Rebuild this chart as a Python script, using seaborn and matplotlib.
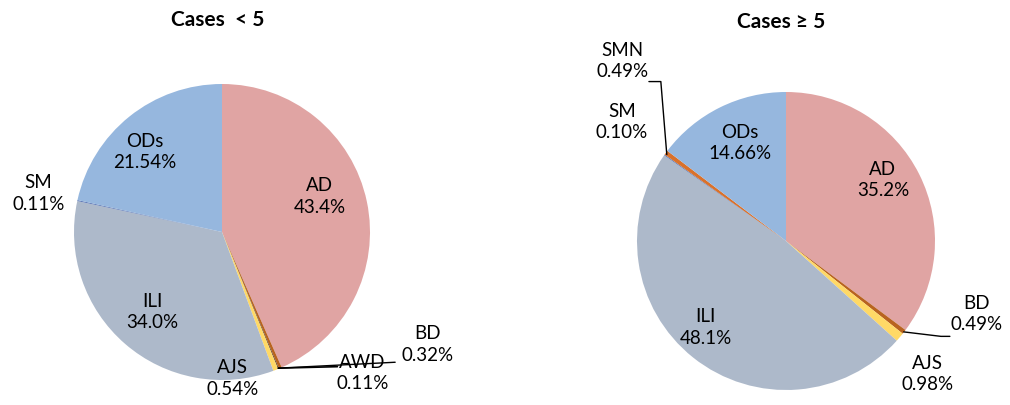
import matplotlib
matplotlib.use("Agg")
import matplotlib.pyplot as plt
import seaborn as sns

sns.set_theme(style="white")
plt.rcParams['font.family'] = ['Lato', 'DejaVu Sans']

# ---- data ----
left_labels = ["AD", "BD", "AWD", "AJS", "ILI", "SM", "ODs"]
left_values = [43.4, 0.32, 0.11, 0.54, 34.0, 0.11, 21.54]
left_text = ["43.4%", "0.32%", "0.11%", "0.54%", "34.0%", "0.11%", "21.54%"]

right_labels = ["AD", "BD", "AJS", "ILI", "SM", "SMN", "ODs"]
right_values = [35.2, 0.49, 0.98, 48.1, 0.10, 0.49, 14.66]
right_text = ["35.2%", "0.49%", "0.98%", "48.1%", "0.10%", "0.49%", "14.66%"]

titles = ["Cases  < 5", "Cases \u2265 5"]

colors = {
    "AD": "#E0A4A3", "BD": "#B8631F", "AWD": "#6B4A2A", "AJS": "#FFD966",
    "ILI": "#ADB9CA", "SM": "#5A76B5", "SMN": "#D9712B", "ODs": "#96B7DE",
}

W, H = 1010, 405
fig = plt.figure(figsize=(W / 100, H / 100), dpi=100)


def make_ax(cx, cy, r):
    return fig.add_axes([(cx - r) / W, (H - cy - r) / H, 2 * r / W, 2 * r / H])


# label positions relative to pie (unit radius)
left_pos = {
    "AD": (0.66, 0.24), "BD": (1.39, -0.76), "AWD": (0.95, -0.95),
    "AJS": (0.07, -0.99), "ILI": (-0.47, -0.54), "SM": (-1.24, 0.26),
    "ODs": (-0.52, 0.54),
}
right_pos = {
    "AD": (0.65, 0.41), "BD": (1.28, -0.49), "AJS": (0.95, -0.89),
    "ILI": (-0.54, -0.58), "SM": (-1.10, 0.80), "SMN": (-1.10, 1.21),
    "ODs": (-0.31, 0.66),
}


def draw(ax, labels, values, texts, pos, title, tpos):
    ax.pie(values, colors=[colors[l] for l in labels], startangle=90,
           counterclock=False, radius=1.0, wedgeprops=dict(linewidth=0))
    ax.set_xlim(-1, 1)
    ax.set_ylim(-1, 1)
    ax.set_aspect('auto')
    ax.axis('off')
    for l, t in zip(labels, texts):
        x, y = pos[l]
        ax.text(x, y, f"{l}\n{t}", ha='center', va='center', fontsize=13.5,
                color='black', linespacing=1.3, clip_on=False)
    ax.text(tpos[0], tpos[1], title, ha='center', va='center', fontsize=15,
            fontweight='bold', color='black', clip_on=False,
            family=['Lato', 'DejaVu Sans'])


# left pie
axL = make_ax(222, 232, 148)
draw(axL, left_labels, left_values, left_text, left_pos, titles[0], (-0.03, 1.43))
# leader lines (AWD, BD)
axL.plot([0.38, 0.78], [-0.92, -0.91], color='black', lw=1.2, clip_on=False)
axL.plot([0.38, 1.17], [-0.92, -0.88], color='black', lw=1.0, clip_on=False)

# right pie
axR = make_ax(786, 241, 149)
draw(axR, right_labels, right_values, right_text, right_pos, titles[1], (-0.03, 1.47))
axR.plot([0.79, 1.04, 1.10], [-0.61, -0.64, -0.64], color='black', lw=1.0, clip_on=False)
axR.plot([-0.80, -0.84, -0.92], [0.58, 1.07, 1.07], color='black', lw=1.0, clip_on=False)

fig.savefig("out.png", dpi=100, facecolor='white')
